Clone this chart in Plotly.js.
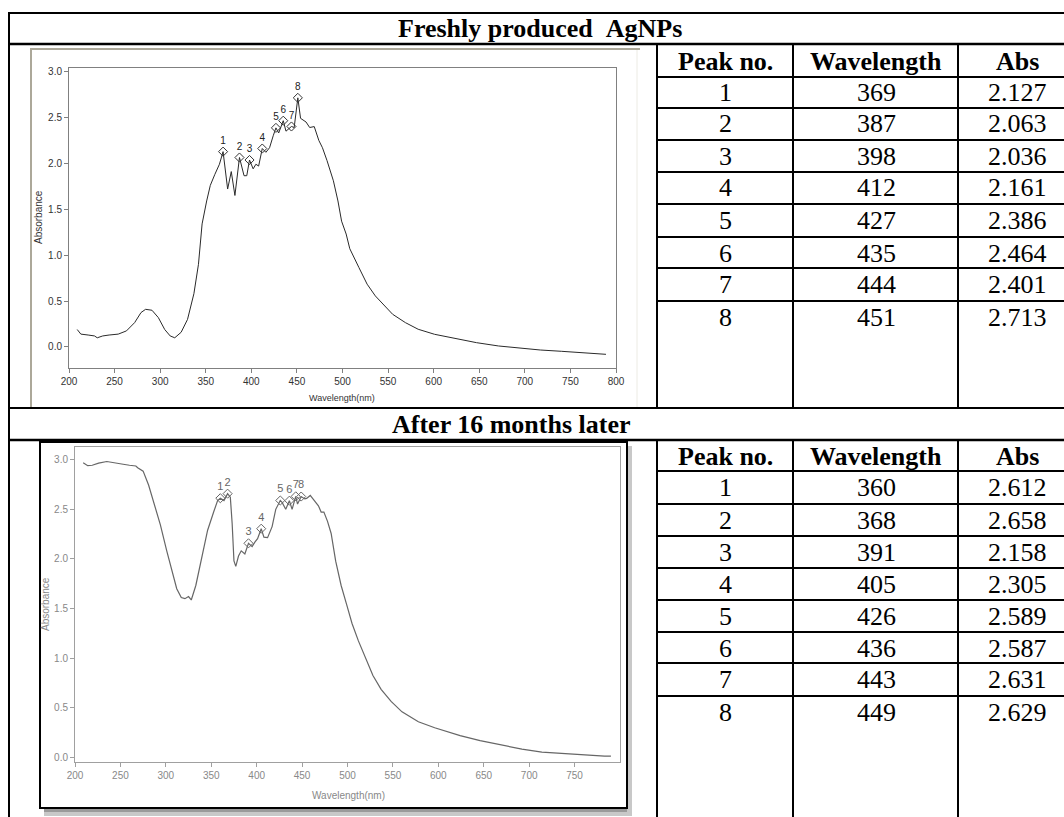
<!DOCTYPE html>
<html>
<head>
<meta charset="utf-8">
<script src="https://cdn.plot.ly/plotly-3.0.1.min.js"></script>
<style>html,body{margin:0;padding:0;background:#fff;}#chart{width:1064px;height:817px;}</style>
</head>
<body>
<div id="chart"></div>
<script>
// ---------- DATA ----------
const sectionTitles = ["Freshly produced\u00a0\u00a0AgNPs", "After 16 months later"];
const tableHeaders = ["Peak no.", "Wavelength", "Abs"];
const xAxisTitle = "Wavelength(nm)";
const yAxisTitle = "Absorbance";

const peakNo = [1, 2, 3, 4, 5, 6, 7, 8];
const fresh_peak_nm  = [369, 387, 398, 412, 427, 435, 444, 451];
const fresh_peak_abs = [2.127, 2.063, 2.036, 2.161, 2.386, 2.464, 2.401, 2.713];
const aged_peak_nm   = [360, 368, 391, 405, 426, 436, 443, 449];
const aged_peak_abs  = [2.612, 2.658, 2.158, 2.305, 2.589, 2.587, 2.631, 2.629];

const fresh_nm  = [209,213,221,228,231,237,244,254,263,272,279,284,291,298,305,311,316,323,330,337,342,346,351,355,360,365,369,374,378,382,387,392,395,398,402,405,408,412,416,420,424,427,430,435,438,444,447,451,454,460,464,469,474,478,483,490,495,499,504,508,518,527,536,546,555,569,583,601,624,647,671,694,717,740,763,789];
const fresh_abs = [0.19,0.14,0.13,0.12,0.10,0.12,0.13,0.14,0.175,0.265,0.375,0.41,0.40,0.32,0.19,0.12,0.10,0.16,0.30,0.58,0.90,1.34,1.59,1.76,1.88,1.99,2.127,1.72,1.91,1.65,2.063,1.865,1.865,2.036,1.94,1.99,1.97,2.161,2.12,2.17,2.30,2.386,2.33,2.464,2.35,2.401,2.39,2.713,2.49,2.45,2.39,2.40,2.25,2.17,2.03,1.81,1.59,1.37,1.23,1.07,0.865,0.684,0.556,0.447,0.356,0.265,0.193,0.138,0.095,0.047,0.011,-0.015,-0.033,-0.047,-0.062,-0.08];

const aged_nm  = [209,214,219,226,235,244,253,260,267,269,275,281,287,294,301,308,312,317,321,325,328,333,340,346,353,357,360,364,368,371,373,375,377,380,383,387,391,395,398,401,405,408,412,417,421,426,428,432,436,439,443,445,449,453,455,459,462,465,468,471,474,478,482,487,493,499,505,512,519,528,537,548,560,578,596,610,624,646,669,692,714,737,760,783,790];
const aged_abs = [2.97,2.94,2.944,2.965,2.982,2.965,2.954,2.944,2.937,2.92,2.885,2.745,2.571,2.344,2.082,1.838,1.70,1.611,1.60,1.622,1.587,1.733,2.03,2.29,2.483,2.588,2.612,2.588,2.658,2.623,2.36,1.98,1.925,2.03,2.082,2.05,2.158,2.124,2.17,2.204,2.305,2.22,2.215,2.326,2.50,2.589,2.57,2.50,2.587,2.50,2.631,2.553,2.629,2.605,2.61,2.64,2.605,2.564,2.535,2.473,2.473,2.379,2.257,1.978,1.733,1.542,1.35,1.175,1.018,0.827,0.687,0.565,0.46,0.36,0.30,0.26,0.22,0.17,0.13,0.085,0.055,0.04,0.03,0.015,0.015];

const yTickVals = [0, 0.5, 1, 1.5, 2, 2.5, 3];
const xTickVals1 = [200,250,300,350,400,450,500,550,600,650,700,750,800];
const xTickVals2 = [200,250,300,350,400,450,500,550,600,650,700,750];

// ---------- LAYOUT HELPERS ----------
const W = 1064, H = 817;
const X = px => px / W;
const Y = py => 1 - py / H;
const shapes = [];
const annotations = [];
function hline(x0, x1, y, w, c) { shapes.push({type:'line', xref:'paper', yref:'paper', x0:X(x0), x1:X(x1), y0:Y(y), y1:Y(y), line:{color:c||'#000', width:w||2}}); }
function vline(x, y0, y1, w, c) { shapes.push({type:'line', xref:'paper', yref:'paper', x0:X(x), x1:X(x), y0:Y(y0), y1:Y(y1), line:{color:c||'#000', width:w||2}}); }
function rect(x0, y0, x1, y1, fill, lc, lw) { shapes.push({type:'rect', xref:'paper', yref:'paper', layer:'below', x0:X(x0), x1:X(x1), y0:Y(y1), y1:Y(y0), fillcolor:fill, line:{color:lc||fill, width:lw||0}}); }
function txt(x, y, s, size, bold, color, family, angle) {
  annotations.push({xref:'paper', yref:'paper', x:X(x), y:Y(y), text: bold ? '<b>'+s+'</b>' : s,
    showarrow:false, xanchor:'center', yanchor:'middle', textangle: angle||0,
    font:{family: family || 'Liberation Serif, Times New Roman, serif', size:size, color: color||'#000'}});
}

// ---------- TABLE GRID ----------
const colX = [657, 793, 958];
const colCenters = [725, 876, 1017];
hline(8, 1064, 13, 2);
vline(9, 12, 817, 2);
hline(8, 1064, 44, 2.5);
hline(8, 1064, 408, 2);
hline(8, 1064, 440, 2.5);
// section 1 table
colX.forEach(x => vline(x, 44, 408, 2));
const rows1 = [77,108,140,172,204,237,268,301];
rows1.forEach(y => hline(657, 1064, y, 2));
// section 2 table
colX.forEach(x => vline(x, 440, 817, 2));
const rows2 = [471,504,536,568,600,632,663,696];
rows2.forEach(y => hline(657, 1064, y, 2));

// section titles
txt(540, 29, sectionTitles[0], 26, true);
txt(511, 424, sectionTitles[1], 26, true);

// peak tables
function peakTable(headY, rowTop, rowH, nms, abss) {
  tableHeaders.forEach((h, i) => txt(colCenters[i], headY, h, 26, true));
  peakNo.forEach((p, i) => {
    const cy = rowTop[i] + rowH / 2;
    txt(colCenters[0], cy, String(p), 26, false);
    txt(colCenters[1], cy, String(nms[i]), 26, false);
    txt(colCenters[2], cy, abss[i].toFixed(3), 26, false);
  });
}
peakTable(61, rows1, 32, fresh_peak_nm, fresh_peak_abs);
peakTable(456, rows2, 32, aged_peak_nm, aged_peak_abs);

// ---------- CHART FRAMES ----------
hline(31, 640, 49, 2, '#aca899');
vline(31, 48, 407, 2, '#aca899');
vline(637, 50, 407, 1, '#ecebe4');
// chart 2 frame with shadow
rect(44, 808, 632, 816, '#c8c8c8');
rect(44, 808, 632, 812, '#9a9a9a');
rect(627, 446, 632, 812, '#c8c8c8');
rect(40, 442, 627, 808, '#ffffff', '#000000', 2);

// axis titles
txt(38, 217, yAxisTitle, 10, false, '#333', 'Liberation Sans, Arial, sans-serif', -90);
txt(342, 398, xAxisTitle, 9, false, '#333', 'Liberation Sans, Arial, sans-serif');
txt(45, 604, yAxisTitle, 10, false, '#888', 'Liberation Sans, Arial, sans-serif', -90);
txt(348, 795, xAxisTitle, 10, false, '#888', 'Liberation Sans, Arial, sans-serif');

// ---------- TRACES ----------
const traces = [
  {x:fresh_nm, y:fresh_abs, xaxis:'x', yaxis:'y', mode:'lines', line:{color:'#2a2a2a', width:1}, hoverinfo:'skip'},
  {x:fresh_peak_nm, y:fresh_peak_abs, xaxis:'x', yaxis:'y', mode:'markers+text', text:peakNo.map(String),
   textposition:'top center', textfont:{family:'Liberation Sans, Arial, sans-serif', size:10, color:'#222'},
   marker:{symbol:'diamond-open', size:7, color:'#333', line:{width:1}}},
  {x:aged_nm, y:aged_abs, xaxis:'x2', yaxis:'y2', mode:'lines', line:{color:'#666', width:1.2}, hoverinfo:'skip'},
  {x:aged_peak_nm, y:aged_peak_abs, xaxis:'x2', yaxis:'y2', mode:'markers+text', text:peakNo.map(String),
   textposition:'top center', textfont:{family:'Liberation Sans, Arial, sans-serif', size:11, color:'#666'},
   marker:{symbol:'diamond-open', size:7, color:'#666', line:{width:1}}}
];

const tickFont1 = {family:'Liberation Sans, Arial, sans-serif', size:10, color:'#333'};
const tickFont2 = {family:'Liberation Sans, Arial, sans-serif', size:10, color:'#888'};
const yText = yTickVals.map(v => v.toFixed(1));

const layout = {
  width: W, height: H, margin:{l:0, r:0, t:0, b:0},
  paper_bgcolor:'#fff', plot_bgcolor:'#fff', showlegend:false,
  xaxis:{domain:[X(69), X(616)], range:[200,800], tickvals:xTickVals1, ticktext:xTickVals1.map(String),
    showline:true, mirror:true, linecolor:'#808080', linewidth:1, ticks:'outside', ticklen:4, tickcolor:'#808080',
    showgrid:false, zeroline:false, tickfont:tickFont1, anchor:'y', fixedrange:true},
  yaxis:{domain:[Y(368), Y(68)], range:[-0.229, 3.038], tickvals:yTickVals, ticktext:yText,
    showline:true, mirror:true, linecolor:'#808080', linewidth:1, ticks:'outside', ticklen:4, tickcolor:'#808080',
    showgrid:false, zeroline:false, tickfont:tickFont1, anchor:'x', fixedrange:true},
  xaxis2:{domain:[X(75), X(620)], range:[200,800], tickvals:xTickVals2, ticktext:xTickVals2.map(String),
    showline:true, mirror:true, linecolor:'#a0a0a0', linewidth:1, ticks:'outside', ticklen:4, tickcolor:'#a0a0a0',
    showgrid:false, zeroline:false, tickfont:tickFont2, anchor:'y2', fixedrange:true},
  yaxis2:{domain:[Y(762), Y(447)], range:[-0.045, 3.128], tickvals:yTickVals, ticktext:yText,
    showline:true, mirror:true, linecolor:'#a0a0a0', linewidth:1, ticks:'outside', ticklen:4, tickcolor:'#a0a0a0',
    showgrid:false, zeroline:false, tickfont:tickFont2, anchor:'x2', fixedrange:true},
  shapes: shapes,
  annotations: annotations
};

Plotly.newPlot('chart', traces, layout, {staticPlot:true, displayModeBar:false});
</script>
</body>
</html>
